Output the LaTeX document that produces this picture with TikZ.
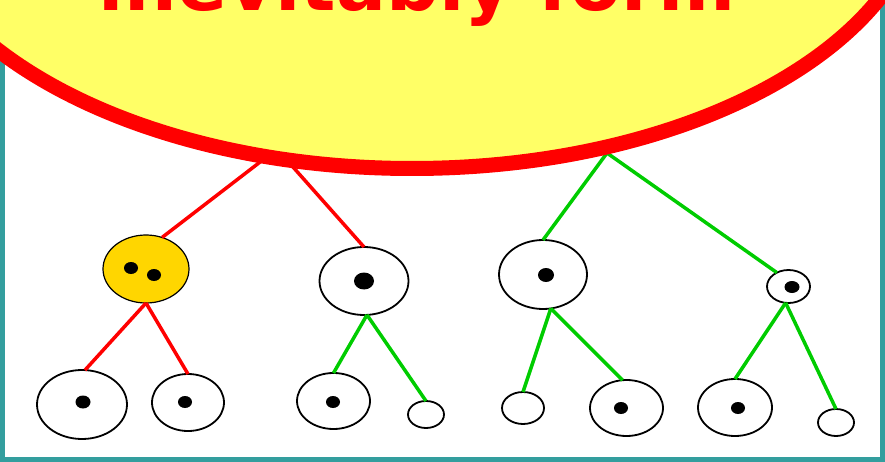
\documentclass[tikz,border=0pt]{standalone}
\usepackage{fontspec}
\newfontfamily\titlefont{DejaVu Sans}
\usetikzlibrary{shapes.geometric}
\definecolor{frameteal}{RGB}{51,158,158}
\definecolor{calloutyellow}{RGB}{255,255,102}
\definecolor{nodegold}{RGB}{255,214,0}
\definecolor{edgegreen}{RGB}{0,204,0}
\tikzset{
  cell/.style={ellipse, draw=black, line width=1.8pt, fill=white, inner sep=0pt, outer sep=0pt},
  redlink/.style={draw=red, line width=3.5pt},
  greenlink/.style={draw=edgegreen, line width=3.5pt},
  dot/.style={fill=black},
}
\begin{document}
\begin{tikzpicture}[x=1pt,y=-1pt]
\useasboundingbox (0,0) rectangle (885,462);
% frame
\draw[frameteal, line width=5pt] (2.5,2.5) rectangle (882.5,459.5);
% hidden roots
\coordinate (rR) at (277,149);
\coordinate (rG) at (607,153);
% level 1
\node[cell, fill=nodegold, line width=1.2pt, minimum width=86pt, minimum height=68pt] (A) at (146,269) {};
\node[cell, minimum width=89pt, minimum height=68pt] (B) at (364,281) {};
\node[cell, minimum width=88pt, minimum height=69pt] (C) at (543,274.5) {};
\node[cell, minimum width=43pt, minimum height=33pt] (D) at (788.5,286.5) {};
% level 2
\node[cell, minimum width=90pt, minimum height=69pt] (L1) at (82,404.5) {};
\node[cell, minimum width=72pt, minimum height=57pt] (L2) at (188,402.5) {};
\node[cell, minimum width=73pt, minimum height=56pt] (L3) at (333.5,401) {};
\node[cell, minimum width=36pt, minimum height=27pt] (L4) at (426,414.5) {};
\node[cell, minimum width=42pt, minimum height=32pt] (L5) at (523,408) {};
\node[cell, minimum width=73pt, minimum height=56pt] (L6) at (626.5,408) {};
\node[cell, minimum width=74pt, minimum height=57pt] (L7) at (735,407.5) {};
\node[cell, minimum width=36pt, minimum height=27pt] (L8) at (836,422.5) {};
% dots
\fill[dot] (131,268) ellipse [x radius=7pt, y radius=6pt];
\fill[dot] (154,275) ellipse [x radius=7pt, y radius=6pt];
\fill[dot] (364,281) ellipse [x radius=10pt, y radius=8.5pt];
\fill[dot] (546,275) ellipse [x radius=8pt, y radius=7pt];
\fill[dot] (792,287) ellipse [x radius=7.5pt, y radius=6pt];
\fill[dot] (83,402) ellipse [x radius=7.5pt, y radius=6.5pt];
\fill[dot] (185,402) ellipse [x radius=7pt, y radius=6pt];
\fill[dot] (333,402) ellipse [x radius=7pt, y radius=6pt];
\fill[dot] (621,408) ellipse [x radius=7pt, y radius=6pt];
\fill[dot] (738,408) ellipse [x radius=7pt, y radius=6pt];
% edges
\draw[redlink] (rR) -- (A.63);
\draw[redlink] (rR) -- (B.north);
\draw[greenlink] (rG) -- (C.north);
\draw[greenlink] (rG) -- (D.130);
\draw[redlink] (A.south) -- (L1.85);
\draw[redlink] (A.south) -- (L2.north);
\draw[greenlink] (B.-85) -- (L3.north);
\draw[greenlink] (B.-85) -- (L4.north);
\draw[greenlink] (C.-77) -- (L5.north);
\draw[greenlink] (C.-77) -- (L6.98);
\draw[greenlink] (D.-100) -- (L7.north);
\draw[greenlink] (D.-100) -- (L8.north);
% callout
\path[draw=red, line width=15pt, fill=calloutyellow] (412,-120) ellipse [x radius=512.5pt, y radius=288.5pt];
\node[anchor=base, text=red, inner sep=0pt, font=\titlefont\bfseries\fontsize{74}{80}\selectfont] (title) at (417,11) {inevitably form};
\end{tikzpicture}
\end{document}
